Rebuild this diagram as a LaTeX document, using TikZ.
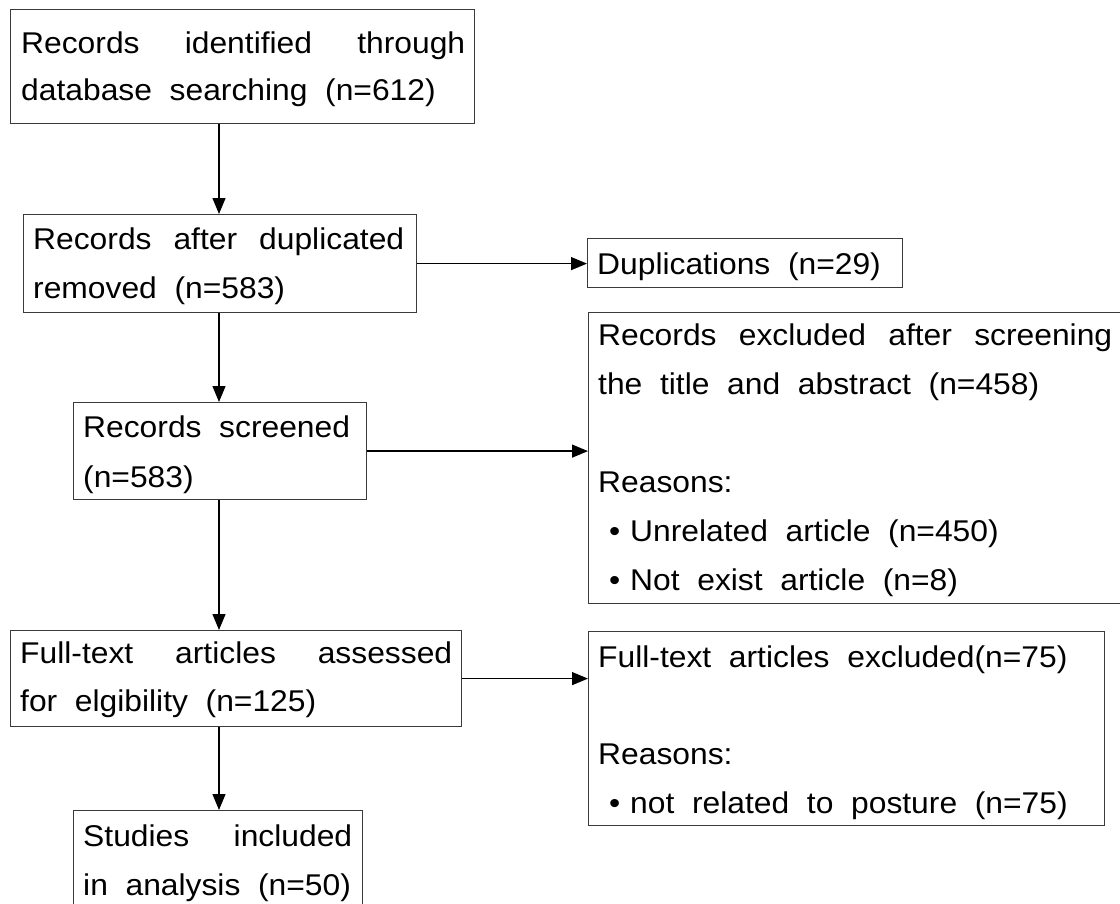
\documentclass[tikz,border=0pt]{standalone}
\usepackage{fontspec}
\setmainfont{Liberation Sans}[FakeStretch=1.06,WordSpace=2]
\usetikzlibrary{arrows.meta}
\definecolor{boxgray}{HTML}{3A3A3A}
\begin{document}
\begin{tikzpicture}[x=1pt,y=-1pt,
  font=\fontsize{30}{48}\selectfont,
  box/.style={draw=boxgray, line width=1.2pt, anchor=north west, inner sep=0pt},
  txt/.style={anchor=base west, inner sep=0pt},
  arr/.style={-{Triangle[length=16pt,width=13pt]}, line width=1.3pt, draw=black}]
\useasboundingbox (0,0) rectangle (1120,903);
\clip (0,0) rectangle (1120,903);
% boxes
\node[box, minimum width=464pt, minimum height=114pt] (A) at (10,9) {};
\node[box, minimum width=393pt, minimum height=98pt]  (B) at (23,214) {};
\node[box, minimum width=315pt, minimum height=49pt]  (C) at (587,238) {};
\node[box, minimum width=293pt, minimum height=97pt]  (D) at (73,402) {};
\node[box, minimum width=545pt, minimum height=291pt] (E) at (588,312) {};
\node[box, minimum width=451pt, minimum height=96pt]  (F) at (10,630) {};
\node[box, minimum width=516pt, minimum height=194pt] (G) at (588,631) {};
\node[box, minimum width=289pt, minimum height=120pt] (H) at (73,810) {};
% texts
\node[txt] (A1) at (21,53)  {\hbox to 444pt{Records\hfill identified\hfill through}};
\node[txt] (A2) at (21,100) {database searching (n=612)};
\node[txt] (B1) at (33,249) {\hbox to 371pt{Records\hfill after\hfill duplicated}};
\node[txt] (B2) at (33,298) {removed (n=583)};
\node[txt] (C1) at (597,274) {Duplications (n=29)};
\node[txt] (D1) at (83,437) {Records screened};
\node[txt] (D2) at (83,487) {(n=583)};
\node[txt] (E1) at (598,345) {\hbox to 514pt{Records\hfill excluded\hfill after\hfill screening}};
\node[txt] (E2) at (598,394) {the title and abstract (n=458)};
\node[txt] (E3) at (598,492) {Reasons:};
\node[txt] (E4) at (609,541) {\makebox[21pt][l]{•}Unrelated article (n=450)};
\node[txt] (E5) at (609,590) {\makebox[21pt][l]{•}Not exist article (n=8)};
\node[txt] (F1) at (20,663) {\hbox to 432pt{Full-text\hfill articles\hfill assessed}};
\node[txt] (F2) at (20,711) {for elgibility (n=125)};
\node[txt] (G1) at (598,667) {Full-text articles excluded(n=75)};
\node[txt] (G2) at (598,764) {Reasons:};
\node[txt] (G3) at (609,813) {\makebox[21pt][l]{•}not related to posture (n=75)};
\node[txt] (H1) at (83,846) {\hbox to 269pt{Studies\hfill included}};
\node[txt] (H2) at (83,895) {in analysis (n=50)};
% connectors
\coordinate (col) at (219,0);
\draw[arr] (A.south -| col) -- (B.north -| col);
\draw[arr] (B.south -| col) -- (D.north -| col);
\draw[arr] (D.south -| col) -- (F.north -| col);
\draw[arr] (F.south -| col) -- (H.north -| col);
\draw[arr] (B.east) -- (B.east -| C.west);
\draw[arr] (D.east) -- (D.east -| E.west);
\draw[arr] (F.east) -- (F.east -| G.west);
\end{tikzpicture}
\end{document}
